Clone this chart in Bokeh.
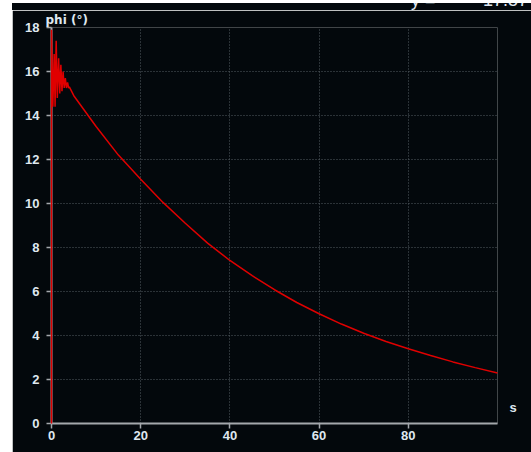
from bokeh.plotting import figure
from bokeh.models import FixedTicker, LinearAxis, Range1d, Title, Div, Spacer
from bokeh.layouts import column, row
from bokeh.embed import file_html
from bokeh.resources import INLINE

# data
s_vals = [0, 0.0, 0.3, 0.6, 0.8, 1.05, 1.3, 1.6, 1.85, 2.1, 2.35, 2.6, 2.85, 3.1,
          3.35, 3.6, 3.85, 4.0, 5, 10, 15, 20, 25, 30, 35, 40, 45, 50, 55, 60,
          65, 70, 75, 80, 85, 90, 95, 100]
phi_vals = [0, 17.9, 14.4, 16.8, 14.4, 17.4, 14.8, 16.6, 15.0, 16.3, 15.1, 16.0,
            15.25, 15.7, 15.25, 15.5, 15.25, 15.3, 14.9, 13.5, 12.2, 11.1, 10.05,
            9.1, 8.2, 7.41, 6.72, 6.08, 5.5, 4.99, 4.52, 4.1, 3.73, 3.40, 3.09,
            2.8, 2.54, 2.3]
x_ticks = [0, 20, 40, 60, 80]
y_ticks = [0, 2, 4, 6, 8, 10, 12, 14, 16, 18]
y_title = "phi (°)"
x_title = "s"
x_title_pos = 0.75
readout_label = "y ="
readout_value = "17.57"

BG = "#03080c"
GRID = "#555c63"
AXIS = "#a4a8ac"
TXT = "#dfe7ef"
FONT = "Liberation Sans"

p = figure(width=519, height=442, output_backend="svg", toolbar_location=None,
           x_range=Range1d(0, 100), y_range=Range1d(0, 18),
           min_border_left=39, min_border_right=34, min_border_top=17,
           min_border_bottom=29, margin=0)
p.background_fill_color = BG
p.border_fill_color = BG
p.outline_line_color = None

for ax in (p.xaxis[0], p.yaxis[0]):
    ax.axis_line_color = AXIS
    ax.axis_line_width = 2
    ax.major_tick_line_color = AXIS
    ax.major_tick_line_width = 1.5
    ax.major_tick_out = 5
    ax.major_tick_in = 0
    ax.minor_tick_line_color = None
    ax.major_label_text_color = TXT
    ax.major_label_text_font = FONT
    ax.major_label_text_font_style = "bold"
    ax.major_label_text_font_size = "13px"
p.xaxis.ticker = FixedTicker(ticks=x_ticks)
p.yaxis.ticker = FixedTicker(ticks=y_ticks)
p.xaxis.major_label_standoff = 2
p.yaxis.major_label_standoff = 7

for g in (p.xgrid[0], p.ygrid[0]):
    g.grid_line_color = GRID
    g.grid_line_dash = "1 2"
    g.grid_line_width = 1
p.xgrid.ticker = FixedTicker(ticks=x_ticks)
p.ygrid.ticker = FixedTicker(ticks=y_ticks)

p.line(s_vals, phi_vals, line_color="#e00000", line_width=1.5, level="overlay")

# "s" label to the right of the x axis end
s_axis = LinearAxis(ticker=FixedTicker(ticks=[x_title_pos]),
                    major_label_overrides={x_title_pos: x_title},
                    axis_line_color=None, major_tick_line_color=None,
                    minor_tick_line_color=None, major_label_standoff=6,
                    major_label_text_color=TXT, major_label_text_font=FONT,
                    major_label_text_font_style="bold",
                    major_label_text_font_size="13px")
p.add_layout(s_axis, "right")

# "phi (°)" title above the y axis
p.add_layout(Title(text=y_title, align="left", offset=-6, standoff=1,
                   text_color=TXT, text_font="DejaVu Sans",
                   text_font_style="bold", text_font_size="12px"), "above")

# partially hidden readout at the very top
readout_html = (
    '<div style="position:absolute;left:399px;top:-12px;white-space:nowrap;'
    'font:18px \'Liberation Sans\';line-height:18px;color:%s">%s</div>'
    '<div style="position:absolute;left:471px;top:-12px;white-space:nowrap;'
    'font:18px \'Liberation Sans\';line-height:18px;color:%s">%s</div>'
    % (TXT, readout_label, TXT, readout_value)
)
readout = Div(text=readout_html, width=519, height=7, margin=0,
              styles={"background-color": BG, "overflow": "hidden",
                      "position": "relative"})

layout = column(Spacer(width=531, height=3, margin=0),
                row(Spacer(width=12, height=449, margin=0),
                    column(readout, p, spacing=0, margin=0),
                    spacing=0, margin=0),
                spacing=0, margin=0)

open("out.html", "w").write(file_html(layout, INLINE))
